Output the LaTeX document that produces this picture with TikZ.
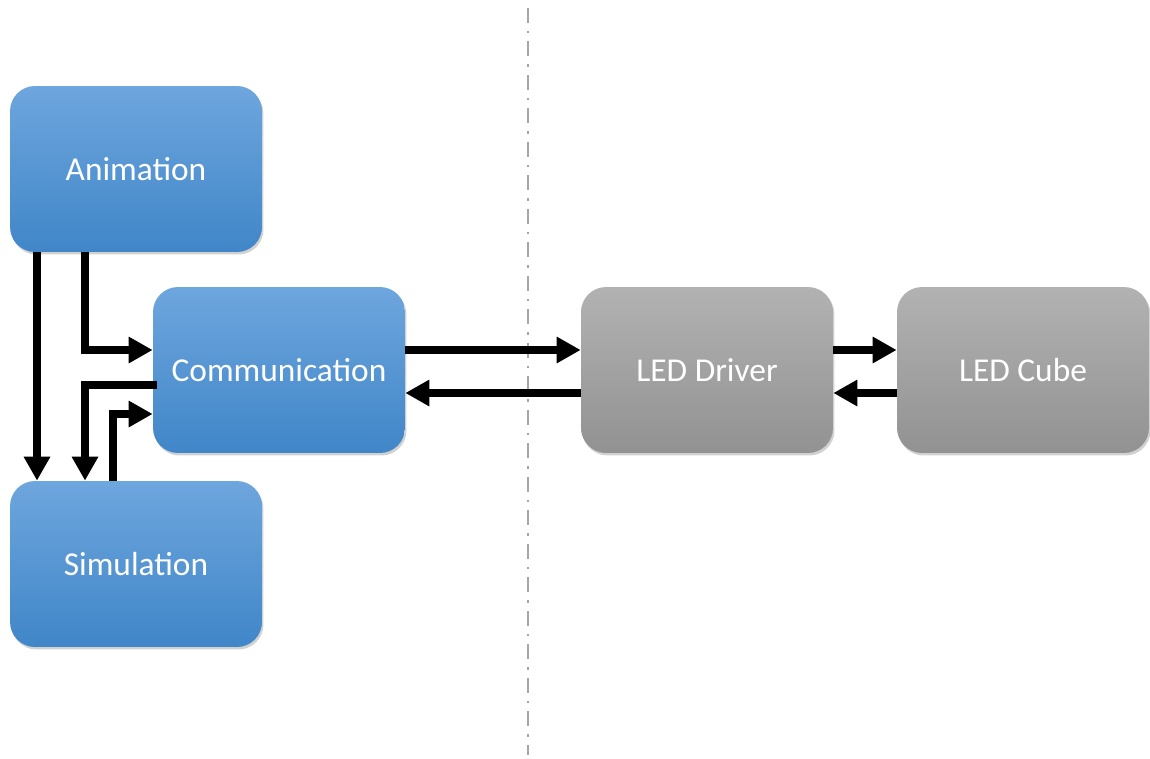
\documentclass[tikz,border=0pt]{standalone}
\usepackage{fontspec}
\setmainfont{Carlito}
\usetikzlibrary{arrows.meta,shadows}

\definecolor{blocktop}{RGB}{110,166,222}
\definecolor{blockbot}{RGB}{64,134,200}
\definecolor{greytop}{RGB}{178,178,178}
\definecolor{greybot}{RGB}{146,146,146}

\begin{document}
\begin{tikzpicture}[x=0.02cm, y=-0.02cm,
    block/.style={rectangle, rounded corners=0.5cm, minimum width=5.04cm, minimum height=3.32cm,
        text=white, font=\fontsize{19}{23}\selectfont,
        drop shadow={opacity=0.3, fill=black!60, shadow xshift=0.03cm, shadow yshift=-0.05cm}},
    blockblue/.style={block, top color=blocktop, bottom color=blockbot},
    blockgrey/.style={block, top color=greytop, bottom color=greybot},
    flow/.style={line width=0.145cm, -{Triangle[length=0.48cm, width=0.5cm]}}]
    \useasboundingbox (0,0) rectangle (1150,758);

    % Separator
    \draw[gray!70, line width=0.045cm, dash pattern=on 0.3cm off 0.16cm on 0.05cm off 0.16cm] (528,8) -- (528,755);

    % PC side
    \node[blockblue] (anim) at (136,169) {Animation};
    \node[blockblue] (comm) at (279,370) {Communication};
    \node[blockblue] (sim) at (136,564) {Simulation};

    % Cube side
    \node[blockgrey] (drv) at (707,370) {LED Driver};
    \node[blockgrey] (cube) at (1023,370) {LED Cube};

    % Turning points
    \coordinate (c1) at (37,350);
    \coordinate (c2) at (85,350);
    \coordinate (c3) at (85,385);
    \coordinate (c4) at (113,414);
    \coordinate (c5) at (0,350);
    \coordinate (c6) at (0,393);

    % Left arrows
    \draw[flow] (anim.south -| c1) -- (sim.north -| c1);
    \draw[flow] (anim.south -| c2) |- (comm.west |- c2);
    \draw[flow] ([xshift=0.08cm]comm.west |- c3) -| (sim.north -| c3);
    \draw[flow] (sim.north -| c4) |- (comm.west |- c4);

    % Right arrows
    \draw[flow] (comm.east |- c5) -- (drv.west |- c5);
    \draw[flow] (drv.west |- c6) -- (comm.east |- c6);
    \draw[flow] (drv.east |- c5) -- (cube.west |- c5);
    \draw[flow] (cube.west |- c6) -- (drv.east |- c6);
\end{tikzpicture}
\end{document}
